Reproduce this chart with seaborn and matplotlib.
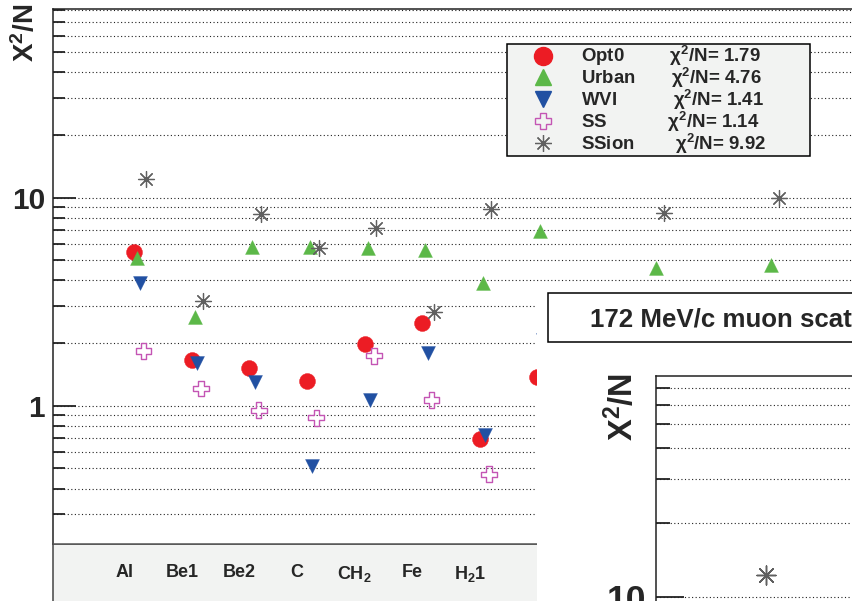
import numpy as np
import pandas as pd
import matplotlib
matplotlib.use("Agg")
import matplotlib.pyplot as plt
import seaborn as sns
from matplotlib.lines import Line2D
from matplotlib.patches import Rectangle
from matplotlib.ticker import LogLocator, NullFormatter, FuncFormatter

nan = np.nan
# ---------------- data ----------------
categories = ["Al", "Be1", "Be2", "C", "CH$_2$", "Fe", "H$_2$1", "", "", "", "", ""]
opt0 = [5.50, 1.65, 1.52, 1.31, 1.97, 2.51, 0.690, 1.38, nan, nan, nan, nan]
urban = [5.13, 2.68, 5.77, 5.81, 5.71, 5.60, 3.90, 6.92, nan, 4.58, nan, 4.75]
wvi = [3.89, 1.60, 1.30, 0.513, 1.06, 1.79, 0.723, 2.08, nan, nan, nan, nan]
ss = [1.83, 1.21, 0.95, 0.876, 1.74, 1.065, 0.468, nan, nan, nan, nan, nan]
ssion = [12.25, 3.20, 8.35, 5.71, 7.17, 2.83, 8.83, nan, nan, 8.47, nan, 10.0]
series_names = ["Opt0", "Urban", "WVI", "SS", "SSion"]
chi2_per_n = ["1.79", "4.76", "1.41", "1.14", "9.92"]
panel_title = "172 MeV/c muon scattering"
y_title = "X$^2$/N"

# ---------------- style ----------------
sns.set_style("white")
plt.rcParams["font.family"] = ["Liberation Sans", "DejaVu Sans"]
plt.rcParams["font.weight"] = "bold"
plt.rcParams["mathtext.fontset"] = "custom"
plt.rcParams["mathtext.rm"] = "Liberation Sans:bold"
plt.rcParams["mathtext.bf"] = "Liberation Sans:bold"
plt.rcParams["mathtext.it"] = "Liberation Sans:italic:bold"
plt.rcParams["mathtext.default"] = "rm"

W, H = 852, 601
fig = plt.figure(figsize=(W / 100, H / 100), dpi=100)
fig.patch.set_facecolor("white")


def fx(px):
    return px / W


def fy(py):
    return (H - py) / H


styles = [
    dict(marker="o", color="#ec1c24", s=11.5, off=0.175, kind="filled"),
    dict(marker="^", color="#5cb848", s=10.0, off=0.224, kind="filled"),
    dict(marker="v", color="#2150a2", s=10.0, off=0.269, kind="filled"),
    dict(marker="P", color="#c455b4", s=11.5, off=0.335, kind="open"),
    dict(marker=(8, 2, 0), color="#606060", s=11.5, off=0.375, kind="line"),
]
all_values = [opt0, urban, wvi, ss, ssion]


def draw_series(ax, scale):
    idx = np.arange(len(categories))
    for vals, st in zip(all_values, styles):
        df = pd.DataFrame({"x": idx + st["off"], "y": vals}).dropna()
        size = (st["s"] * scale) ** 2
        if st["kind"] == "filled":
            sns.scatterplot(data=df, x="x", y="y", ax=ax, marker=st["marker"], s=size,
                            color=st["color"], edgecolor=st["color"], linewidth=0.3,
                            zorder=3, legend=False)
        elif st["kind"] == "open":
            sns.scatterplot(data=df, x="x", y="y", ax=ax, marker=st["marker"], s=size,
                            facecolors="none", edgecolor=st["color"], linewidth=1.0 * scale,
                            zorder=3, legend=False)
        else:
            sns.scatterplot(data=df, x="x", y="y", ax=ax, marker=st["marker"], s=size,
                            color=st["color"], linewidth=0.9 * scale,
                            zorder=3, legend=False)


def style_axes(ax, scale, ylim, xlim, major_fs):
    ax.set_yscale("log")
    ax.set_ylim(*ylim)
    ax.set_xlim(*xlim)
    ax.set_facecolor("white")
    ax.yaxis.set_major_locator(LogLocator(base=10))
    ax.yaxis.set_minor_locator(LogLocator(base=10, subs=np.arange(2, 10)))
    ax.yaxis.set_major_formatter(FuncFormatter(lambda v, p: f"{v:g}"))
    ax.yaxis.set_minor_formatter(NullFormatter())
    ax.grid(True, which="both", axis="y", linestyle=(0, (1, 2.2)), color="#222222",
            linewidth=0.8)
    ax.set_axisbelow(True)
    ax.tick_params(axis="y", which="both", left=True, right=False)
    ax.tick_params(axis="y", which="major", direction="in", length=16.8 * scale,
                   width=1.3, color="#222222", labelsize=major_fs, pad=6 * scale)
    ax.tick_params(axis="y", which="minor", direction="in", length=8.6 * scale,
                   width=1.3, color="#222222")
    for side in ("left", "top"):
        ax.spines[side].set_color("#222222")
        ax.spines[side].set_linewidth(1.1)
    ax.spines["right"].set_visible(False)
    ax.spines["bottom"].set_color("#555555")
    ax.spines["bottom"].set_linewidth(1.1)
    ax.set_xlabel("")


# ---------------- main panel ----------------
unit = 57.6
c0 = 124.2
left_px, top_px, bottom_px, right_px = 53.3, 9.0, 544.3, 1000.0
ax = fig.add_axes([fx(left_px), fy(bottom_px), (right_px - left_px) / W,
                   (bottom_px - top_px) / H])
ax.set_zorder(0)
draw_series(ax, 1.0)
style_axes(ax, 1.0, (0.2157, 80.75),
           ((left_px - c0) / unit, (right_px - c0) / unit), 21.5)
ax.set_xticks(np.arange(len(categories)))
ax.set_xticklabels(categories)
ax.tick_params(axis="x", which="both", bottom=True, length=0, pad=14.5, labelsize=13)
ax.set_ylabel(y_title, loc="top", fontsize=20, fontweight="bold")
ax.yaxis.set_label_coords(fx(40), fy(4), transform=fig.transFigure)

# legend
handles = []
for st in styles:
    if st["kind"] == "filled":
        handles.append(Line2D([], [], linestyle="none", marker=st["marker"],
                              markersize=st["s"] + 1.5, markerfacecolor=st["color"],
                              markeredgecolor=st["color"]))
    elif st["kind"] == "open":
        handles.append(Line2D([], [], linestyle="none", marker=st["marker"],
                              markersize=st["s"] + 0.5, markerfacecolor="none",
                              markeredgecolor=st["color"], markeredgewidth=1.0))
    else:
        handles.append(Line2D([], [], linestyle="none", marker=st["marker"],
                              markersize=st["s"] + 0.5, color=st["color"],
                              markeredgewidth=0.9))
gaps = [9, 7, 11, 12, 8]
labels = [f"{n}{' ' * g}$\\chi^2$/N= {v}" for n, g, v in zip(series_names, gaps, chi2_per_n)]
leg = ax.legend(handles, labels, loc="upper left",
                bbox_to_anchor=(fx(507), fy(153), 303 / W, 109 / H),
                bbox_transform=fig.transFigure, mode="expand", borderaxespad=0,
                borderpad=0.0, handlelength=3.87, handletextpad=0.1, labelspacing=-0.12,
                prop=dict(weight="bold", size=13.4), frameon=True, fancybox=False,
                edgecolor="black", facecolor="#f2f3f2", framealpha=1)
leg.get_frame().set_linewidth(1.1)

# grey label band under the main frame
fig.add_artist(Rectangle((fx(left_px), -0.1), 2.0, fy(bottom_px) + 0.1,
                         transform=fig.transFigure, facecolor="#f2f3f2",
                         edgecolor="#444444", linewidth=1.1, zorder=-1))

# ---------------- overlapping second panel ----------------
fig.add_artist(Rectangle((fx(537), -0.1), 1.0, fy(288) + 0.1, transform=fig.transFigure,
                         facecolor="white", edgecolor="none", zorder=5))
fig.add_artist(Rectangle((fx(548.3), fy(342.3)), 1.0, (342.3 - 293.3) / H,
                         transform=fig.transFigure, facecolor="white",
                         edgecolor="black", linewidth=1.1, zorder=6))
fig.text(fx(590), fy(327), panel_title, ha="left", va="baseline", fontsize=18.6,
         fontweight="bold", zorder=7)

k = 247 / 208
unit2 = unit * k
left2, top2, bottom2, right2 = 655.7, 375.7, 800.0, 1000.0
c02 = left2 + (c0 - left_px) * k
ax2 = fig.add_axes([fx(left2), fy(bottom2), (right2 - left2) / W, (bottom2 - top2) / H])
ax2.set_zorder(8)
draw_series(ax2, k)
style_axes(ax2, k, (10 ** (1 - (bottom2 - 597) / 247), 10 ** (1 + (597 - top2) / 247)),
           ((left2 - c02) / unit2, (right2 - c02) / unit2), 25.5)
ax2.set_xticks([])
ax2.set_ylabel(y_title, loc="top", fontsize=23.5, fontweight="bold")
ax2.yaxis.set_label_coords(fx(640), fy(373), transform=fig.transFigure)

fig.savefig("out.png", dpi=100)
